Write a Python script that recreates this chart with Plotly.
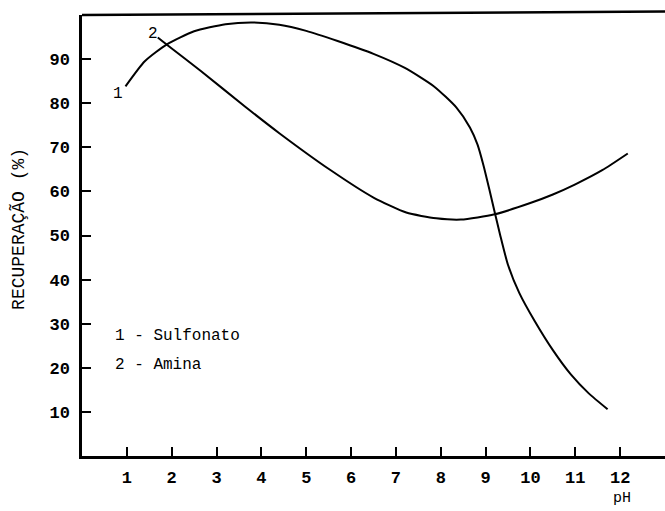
import plotly.graph_objects as go

# Curve 1 - Sulfonato
ph_sulfonato = [0.97, 1.4, 1.9, 2.5, 3.2, 3.8, 4.4, 5.0, 5.7, 6.5, 7.2, 7.85, 8.35, 8.65, 8.82, 8.95, 9.08, 9.2, 9.32, 9.5, 9.75, 10.1, 10.5, 10.9, 11.3, 11.72]
rec_sulfonato = [83.8, 89.5, 93.4, 96.3, 97.9, 98.3, 97.8, 96.4, 94.1, 91.2, 88.0, 83.8, 79.0, 74.5, 70.6, 66.0, 60.6, 55.4, 50.3, 43.3, 37.0, 30.5, 24.0, 18.5, 14.2, 10.6]

# Curve 2 - Amina
ph_amina = [1.69, 1.9, 2.65, 3.64, 4.4, 5.53, 6.5, 7.23, 7.9, 8.45, 9.2, 9.98, 10.5, 11.0, 11.6, 12.17]
rec_amina = [94.9, 93.2, 87.3, 79.2, 73.2, 64.9, 58.6, 55.2, 53.9, 53.6, 54.8, 57.3, 59.3, 61.6, 64.8, 68.6]

x_ticks = list(range(1, 13))
y_ticks = list(range(10, 100, 10))

FONT = "Liberation Mono"

fig = go.Figure()
fig.add_trace(go.Scatter(x=ph_sulfonato, y=rec_sulfonato, mode="lines",
                         line=dict(color="black", width=2, shape="spline", smoothing=0.6),
                         name="1 - Sulfonato", showlegend=False))
fig.add_trace(go.Scatter(x=ph_amina, y=rec_amina, mode="lines",
                         line=dict(color="black", width=2, shape="spline", smoothing=0.6),
                         name="2 - Amina", showlegend=False))

fig.add_annotation(x=0.81, y=82, text="1", showarrow=False, font=dict(family=FONT, size=16, color="black"))
fig.add_annotation(x=1.58, y=95.8, text="2", showarrow=False, font=dict(family=FONT, size=16, color="black"))
fig.add_annotation(x=0.68, y=27.2, text="1 - Sulfonato", showarrow=False, xanchor="left",
                   font=dict(family=FONT, size=16, color="black"))
fig.add_annotation(x=0.68, y=20.6, text="2 - Amina", showarrow=False, xanchor="left",
                   font=dict(family=FONT, size=16, color="black"))
fig.add_annotation(x=12.05, xref="x", y=-0.096, yref="paper", text="pH", showarrow=False,
                   yanchor="middle", font=dict(family=FONT, size=15, color="black"))
fig.add_annotation(x=-0.108, xref="paper", y=0.515, yref="paper", text="RECUPERAÇÃO (%)",
                   textangle=-90, showarrow=False, xanchor="center", yanchor="middle",
                   font=dict(family=FONT, size=18, color="black"))

fig.add_shape(type="line", xref="paper", yref="paper", x0=0, x1=1, y0=1, y1=1.008,
              line=dict(color="black", width=2.5))

fig.update_xaxes(range=[0, 13], tickvals=x_ticks, ticktext=[str(v) for v in x_ticks],
                 ticks="inside", ticklen=9, tickwidth=2, tickcolor="black",
                 showline=True, linecolor="black", linewidth=2.5,
                 showgrid=False, zeroline=False, ticklabelstandoff=4,
                 tickfont=dict(family=FONT, size=17, color="black", weight="bold"))
fig.update_yaxes(range=[0, 100], tickvals=y_ticks, ticktext=[str(v) for v in y_ticks],
                 ticks="inside", ticklen=9, tickwidth=2, tickcolor="black",
                 showline=True, linecolor="black", linewidth=2.5,
                 showgrid=False, zeroline=False, ticklabelstandoff=6,
                 tickfont=dict(family=FONT, size=17, color="black", weight="bold"))

fig.update_layout(width=665, height=511, margin=dict(l=82, r=0, t=15, b=55),
                  plot_bgcolor="white", paper_bgcolor="white", showlegend=False)

fig.write_html("out.html")
